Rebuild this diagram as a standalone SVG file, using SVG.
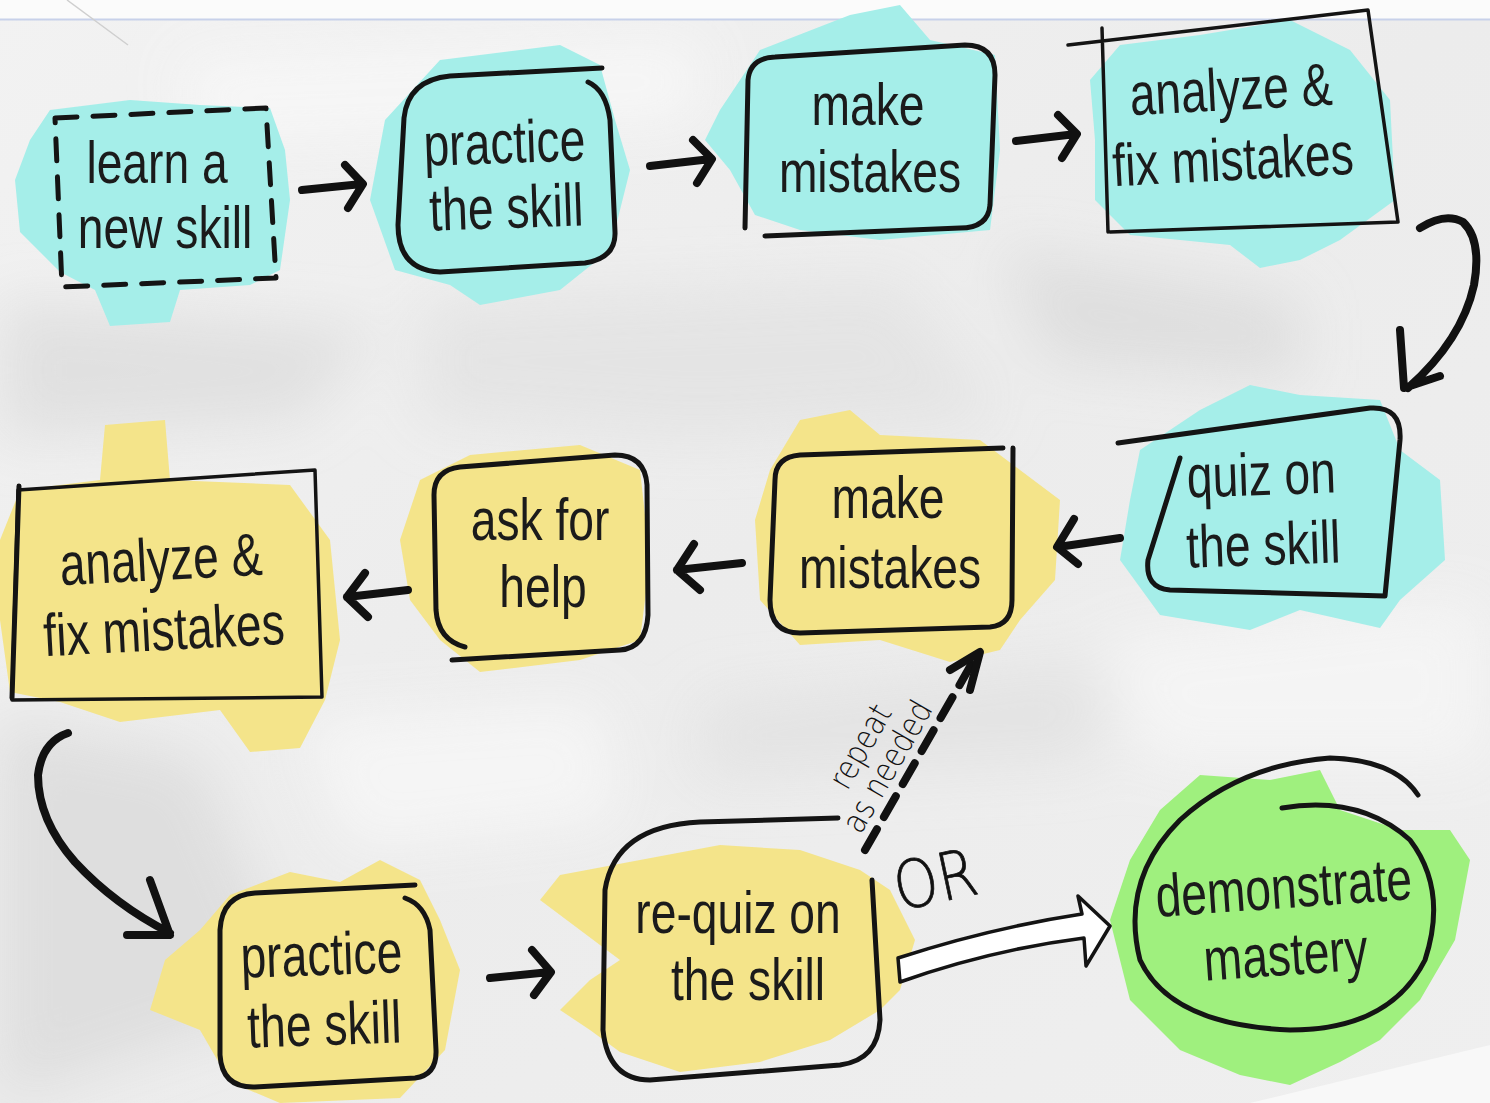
<svg xmlns="http://www.w3.org/2000/svg" width="1490" height="1103" viewBox="0 0 1490 1103">
<defs>
<filter id="blur" x="-20%" y="-20%" width="140%" height="140%"><feGaussianBlur stdDeviation="28"/></filter>
<linearGradient id="paper" x1="0" y1="0" x2="1" y2="1">
<stop offset="0" stop-color="#f2f2f2"/><stop offset="0.5" stop-color="#ececec"/><stop offset="1" stop-color="#efefef"/>
</linearGradient>
<style>
.box{fill:none;stroke:#141414;stroke-width:5;stroke-linecap:round;stroke-linejoin:round}
.thin{fill:none;stroke:#141414;stroke-width:3.5;stroke-linecap:round;stroke-linejoin:round}
.arr{fill:none;stroke:#111;stroke-width:8;stroke-linecap:round;stroke-linejoin:round}
.cy{fill:#a5eee9}
.ye{fill:#f4e48a}
.gr{fill:#9ff07e}
.lbl{font-family:"Liberation Sans",Arial,sans-serif;font-size:60px;fill:#1b1b1b;text-anchor:middle}
.hand{font-family:"DejaVu Sans","Liberation Sans",sans-serif;font-weight:300;fill:#111;text-anchor:middle}
</style>
</defs>

<!-- paper background -->
<rect width="1490" height="1103" fill="url(#paper)"/>
<g filter="url(#blur)" opacity="0.85">
<path d="M0,300 L380,330 L300,420 L0,440 Z" fill="#dedede"/>
<path d="M420,300 L900,280 L1000,420 L700,440 L420,420 Z" fill="#e3e3e3"/>
<path d="M0,720 L200,760 L300,1000 L0,1100 Z" fill="#dcdcdc"/>
<path d="M700,700 L1100,660 L1100,760 L700,780 Z" fill="#e2e2e2"/>
<path d="M1000,250 L1300,300 L1300,380 L1050,360 Z" fill="#dcdcdc"/>
<path d="M180,60 L700,40 L700,120 L200,140 Z" fill="#f8f8f8"/>
<path d="M300,720 L600,700 L620,820 L350,850 Z" fill="#f7f7f7"/>
<path d="M1100,640 L1480,600 L1480,760 L1150,760 Z" fill="#f6f6f6"/>
</g>
<rect x="0" y="0" width="1490" height="19" fill="#fbfbfb"/>
<line x1="0" y1="19.5" x2="1490" y2="19.5" stroke="#c8d1ea" stroke-width="2"/>
<line x1="67" y1="0" x2="128" y2="45" stroke="#cfcfcf" stroke-width="1.5"/>
<path d="M1250,1103 L1490,1045 L1490,1103 Z" fill="#f8f8f8"/>

<!-- color blobs -->
<g id="blobs">
<path class="cy" d="M30,140 L50,110 L130,100 L200,105 L270,108 L285,150 L290,200 L280,270 L250,285 L180,290 L170,322 L110,326 L95,290 L60,272 L20,232 L15,180 Z"/>
<path class="cy" d="M385,120 L440,60 L560,45 L600,65 L615,120 L630,170 L610,250 L560,290 L480,305 L450,285 L395,270 L370,200 Z"/>
<path class="cy" d="M720,110 L760,50 L850,15 L900,5 L930,40 L995,55 L1000,150 L990,230 L880,240 L800,230 L755,215 L730,170 L705,140 Z"/>
<path class="cy" d="M1090,80 L1120,45 L1200,35 L1290,20 L1350,50 L1390,100 L1395,200 L1340,240 L1300,260 L1260,268 L1230,245 L1130,235 L1095,200 L1095,140 Z"/>
<path class="cy" d="M1140,450 L1200,410 L1250,385 L1300,395 L1380,400 L1400,450 L1440,480 L1445,560 L1400,600 L1380,628 L1300,610 L1250,630 L1160,615 L1120,560 L1130,500 Z"/>
<path class="ye" d="M800,420 L850,410 L880,435 L980,440 L1020,470 L1060,500 L1055,580 L1020,620 L1000,650 L950,662 L880,640 L800,645 L760,600 L755,520 L770,470 Z"/>
<path class="ye" d="M420,480 L470,455 L580,445 L640,470 L650,560 L640,640 L580,660 L480,672 L440,640 L410,600 L400,540 Z"/>
<path class="ye" d="M105,425 L165,420 L170,480 L290,485 L330,540 L340,640 L325,700 L300,748 L250,752 L220,710 L120,722 L60,702 L10,692 L0,620 L0,540 L20,490 L100,480 Z"/>
<path class="ye" d="M230,895 L290,872 L340,882 L380,860 L420,880 L440,920 L460,970 L445,1050 L400,1098 L280,1103 L230,1082 L200,1030 L150,1010 L165,960 L200,930 Z"/>
<path class="ye" d="M560,875 L640,860 L720,845 L800,850 L860,870 L890,890 L915,940 L900,990 L880,1010 L830,1040 L760,1062 L680,1072 L620,1052 L590,1030 L560,1010 L590,980 L620,960 L580,930 L540,900 Z"/>
<path class="gr" d="M1160,810 L1200,775 L1270,780 L1320,770 L1340,810 L1400,830 L1450,830 L1470,860 L1455,940 L1420,1000 L1380,1040 L1340,1062 L1290,1085 L1240,1075 L1180,1050 L1130,1000 L1110,920 L1130,860 Z"/>
</g>

<!-- connectors -->
<g id="connectors">
<path class="arr" d="M302,190 L362,184 M345,165 L363,184 L348,208"/>
<path class="arr" d="M650,166 L711,159 M693,140 L712,159 L697,183"/>
<path class="arr" d="M1016,141 L1076,134 M1058,115 L1077,134 L1062,158"/>
<path class="arr" stroke-width="9" d="M1420,228 Q1445,212 1463,222 Q1482,240 1474,285 Q1462,340 1408,388 M1400,330 L1404,388 L1440,376"/>
<path class="arr" d="M1120,538 L1058,547 M1074,519 L1057,547 L1078,564"/>
<path class="arr" d="M742,563 L677,570 M694,544 L677,570 L700,590"/>
<path class="arr" d="M408,590 L347,597 M365,573 L347,597 L368,617"/>
<path class="arr" stroke-width="9" d="M68,733 Q42,742 38,775 Q38,820 75,862 Q115,905 170,933 M150,880 L170,935 L127,935"/>
<path class="arr" d="M490,978 L550,972 M532,950 L551,972 L534,995"/>
<path class="arr" stroke-dasharray="24 14" d="M865,850 L975,658"/>
<path class="arr" d="M950,670 L980,652 L970,690"/>
<path fill="#ffffff" stroke="#141414" stroke-width="3.5" stroke-linejoin="round" d="M898,958 Q990,928 1082,914 L1078,896 L1110,926 L1086,966 L1084,938 Q990,950 900,982 Z"/>
<text class="hand" font-size="33" transform="translate(870,752) rotate(-60) scale(0.85 1)">repeat</text>
<text class="hand" font-size="33" transform="translate(897,772) rotate(-60) scale(0.85 1)">as needed</text>
<text class="hand" font-size="66" stroke="#111" stroke-width="0.8" transform="translate(940,902) rotate(-12) scale(0.85 1)">OR</text>
</g>

<!-- nodes -->
<g id="n1">
<path class="box" stroke-width="4" stroke-dasharray="22 16" d="M55,118 L266,108 L276,278 L62,287 Z"/>
<text class="lbl" transform="translate(157 183) scale(0.77 1)">learn a</text>
<text class="lbl" transform="translate(165 248) scale(0.77 1)">new skill</text>
</g>
<g id="n2">
<path class="box" d="M602,68 L450,76 Q408,80 404,118 L398,225 Q398,270 440,272 L585,263 Q616,258 615,232 L610,120 Q606,90 588,82"/>
<text class="lbl" transform="translate(505 163) rotate(-2) scale(0.77 1)">practice</text>
<text class="lbl" transform="translate(507 228) rotate(-2) scale(0.77 1)">the skill</text>
</g>
<g id="n3">
<path class="box" d="M745,228 L748,80 Q750,58 775,57 L965,45 Q995,45 995,75 L990,205 Q988,228 960,228 L765,236"/>
<text class="lbl" transform="translate(868 125) scale(0.77 1)">make</text>
<text class="lbl" transform="translate(870 192) scale(0.77 1)">mistakes</text>
</g>
<g id="n4">
<path class="thin" d="M1068,45 L1368,10 L1398,222 L1110,232 M1102,28 L1108,232"/>
<text class="lbl" transform="translate(1232 110) rotate(-3) scale(0.77 1)">analyze &amp;</text>
<text class="lbl" transform="translate(1234 180) rotate(-3) scale(0.77 1)">fix mistakes</text>
</g>
<g id="n5">
<path class="box" d="M1118,443 L1370,408 Q1402,406 1400,440 L1385,596 L1170,590 Q1145,588 1148,560 L1180,458"/>
<text class="lbl" transform="translate(1262 495) rotate(-2) scale(0.77 1)">quiz on</text>
<text class="lbl" transform="translate(1264 565) rotate(-2) scale(0.77 1)">the skill</text>
</g>
<g id="n6">
<path class="box" d="M1003,448 L800,455 Q775,457 775,480 L770,600 Q770,633 800,633 L990,627 Q1012,625 1012,600 L1013,448"/>
<text class="lbl" transform="translate(888 518) scale(0.77 1)">make</text>
<text class="lbl" transform="translate(890 588) scale(0.77 1)">mistakes</text>
</g>
<g id="n7">
<path class="box" d="M465,647 Q438,640 436,610 L434,495 Q434,470 460,467 L615,455 Q645,455 647,485 L648,615 Q646,648 620,650 L452,660"/>
<text class="lbl" transform="translate(540 540) scale(0.77 1)">ask for</text>
<text class="lbl" transform="translate(543 607) scale(0.77 1)">help</text>
</g>
<g id="n8">
<path class="thin" d="M18,490 L315,470 L322,697 L12,700 Z"/>
<path class="box" d="M19,486 L12,698"/>
<text class="lbl" transform="translate(162 580) rotate(-3) scale(0.77 1)">analyze &amp;</text>
<text class="lbl" transform="translate(165 650) rotate(-3) scale(0.77 1)">fix mistakes</text>
</g>
<g id="n9">
<path class="box" d="M415,885 L255,893 Q222,895 220,930 L220,1055 Q222,1088 255,1087 L415,1078 Q437,1075 436,1050 L430,930 Q425,905 405,898"/>
<text class="lbl" transform="translate(322 975) rotate(-2) scale(0.77 1)">practice</text>
<text class="lbl" transform="translate(325 1045) rotate(-2) scale(0.77 1)">the skill</text>
</g>
<g id="n10">
<path class="box" stroke-width="4" d="M838,818 L700,822 Q615,826 605,890 L603,1030 Q608,1080 650,1080 L840,1065 Q878,1060 880,1020 L872,880"/>
<text class="lbl" transform="translate(738 933) scale(0.77 1)">re-quiz on</text>
<text class="lbl" transform="translate(748 1000) scale(0.77 1)">the skill</text>
</g>
<g id="n11">
<path class="box" stroke-width="4" d="M1282,808 Q1360,795 1410,840 Q1448,890 1425,960 Q1390,1030 1290,1030 Q1170,1025 1140,960 Q1120,880 1180,820 Q1240,765 1330,758 Q1395,760 1418,795"/>
<text class="lbl" transform="translate(1285 908) rotate(-4) scale(0.77 1)">demonstrate</text>
<text class="lbl" transform="translate(1287 975) rotate(-4) scale(0.77 1)">mastery</text>
</g>
</svg>
